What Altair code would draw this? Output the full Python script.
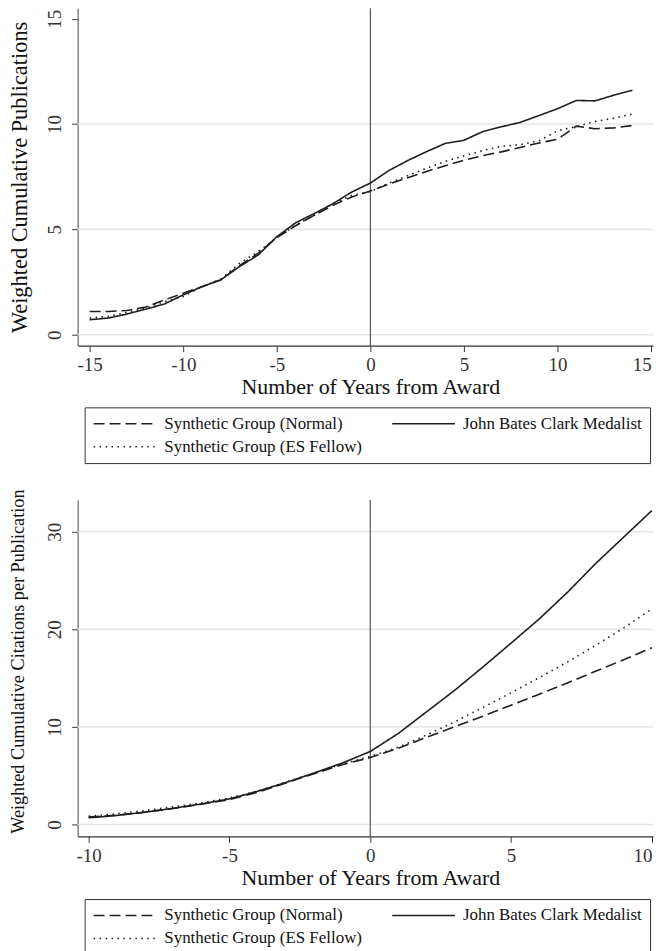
import altair as alt
import pandas as pd

# ---------------- data ----------------
# order in the legend (column-major): Normal, ES Fellow | Clark
series_names = ["Synthetic Group (Normal)", "Synthetic Group (ES Fellow)", "John Bates Clark Medalist"]

years_pub = list(range(-15, 15))
pub_normal = [1.10, 1.10, 1.15, 1.31, 1.65, 1.97, 2.28, 2.60, 3.28, 3.86, 4.61, 5.17, 5.67, 6.14, 6.54,
              6.82, 7.15, 7.45, 7.75, 8.02, 8.28, 8.50, 8.68, 8.89, 9.10, 9.28, 9.90, 9.78, 9.82, 9.93]
pub_es = [0.79, 0.87, 1.06, 1.26, 1.57, 1.81, 2.28, 2.63, 3.39, 3.94, 4.61, 5.20, 5.67, 6.22, 6.61,
          6.80, 7.20, 7.55, 7.90, 8.23, 8.49, 8.74, 8.94, 9.02, 9.20, 9.68, 9.88, 10.12, 10.28, 10.47]
pub_clark = [0.71, 0.79, 0.98, 1.21, 1.46, 1.89, 2.28, 2.60, 3.23, 3.78, 4.65, 5.31, 5.75, 6.22, 6.77,
             7.20, 7.80, 8.27, 8.69, 9.08, 9.23, 9.64, 9.87, 10.08, 10.40, 10.73, 11.12, 11.10, 11.37, 11.60]

years_cit = list(range(-10, 11))
cit_normal = [0.75, 0.95, 1.26, 1.63, 2.07, 2.55, 3.30, 4.25, 5.20, 6.12, 6.86,
              7.82, 8.94, 10.02, 11.10, 12.23, 13.35, 14.51, 15.70, 16.89, 18.11]
cit_es = [0.85, 1.09, 1.43, 1.80, 2.21, 2.72, 3.43, 4.32, 5.27, 6.19, 6.97,
          7.92, 9.17, 10.53, 11.99, 13.49, 15.05, 16.65, 18.35, 20.15, 22.09]
cit_clark = [0.68, 0.92, 1.26, 1.66, 2.10, 2.62, 3.40, 4.30, 5.27, 6.29, 7.48,
             9.34, 11.55, 13.76, 16.14, 18.59, 21.07, 23.79, 26.74, 29.46, 32.18]

pub_ticks_x = [-15, -10, -5, 0, 5, 10, 15]
pub_ticks_y = [0, 5, 10, 15]
pub_grid_y = [0, 5, 10]
cit_ticks_x = [-10, -5, 0, 5, 10]
cit_ticks_y = [0, 10, 20, 30]
cit_grid_y = [0, 10, 20, 30]
award_year = [0]

x_title = "Number of Years from Award"
pub_title = "Weighted Cumulative Publications"
cit_title = "Weighted Cumulative Citations per Publication"

# ---------------- styles ----------------
FONT = "Liberation Serif"
INK = "#1e1e1e"
dash_scale = alt.Scale(domain=series_names, range=[[11, 5], [1.5, 4.5], [1, 0]])
HYPHEN = "replace(datum.label, '\u2212', '-')"
LEFT = 69  # room left of each plot for the y labels and title


def long_table(years, normal, es, clark):
    rows = []
    for name, vals in zip(series_names, [normal, es, clark]):
        for yr, v in zip(years, vals):
            rows.append({"year": yr, "value": v, "group": name})
    return pd.DataFrame(rows)


def panel(df, xdom, ydom, xticks, yticks, grid, ytitle, ytitle_size, ytitle_y, w, h):
    xscale = alt.Scale(domain=xdom, nice=False, zero=False)
    yscale = alt.Scale(domain=ydom, nice=False, zero=False)
    xenc = alt.X(
        "year:Q",
        scale=xscale,
        axis=alt.Axis(values=xticks, title=x_title, grid=False, format="d", labelExpr=HYPHEN,
                      labelFont=FONT, labelFontSize=19, labelColor="#333",
                      labelFlush=5, labelFlushOffset=0,
                      tickSize=6, tickColor="#333", tickWidth=1,
                      domainColor="#333", domainWidth=1.2, labelPadding=4,
                      titleFont=FONT, titleFontSize=22, titleFontWeight="normal",
                      titleColor="#111", titlePadding=2, titleX=294, titleAlign="center"),
    )
    yenc = alt.Y(
        "value:Q",
        scale=yscale,
        axis=alt.Axis(values=yticks, title=ytitle, grid=False, format="d", labelExpr=HYPHEN,
                      labelFont=FONT, labelFontSize=19, labelColor="#333",
                      labelAngle=270, labelAlign="center", labelBaseline="bottom",
                      tickSize=6, tickColor="#333", tickWidth=1,
                      domainColor="#666", domainWidth=1.2, labelPadding=7,
                      titleFont=FONT, titleFontSize=ytitle_size, titleFontWeight="normal",
                      titleColor="#111", titleAngle=270, titleAlign="center",
                      titleBaseline="bottom", titleX=ytitle_size - LEFT, titleY=ytitle_y),
    )
    grid_layer = alt.Chart(pd.DataFrame({"value": grid})).mark_rule(
        color="#e6e6e6", strokeWidth=1.6
    ).encode(y=alt.Y("value:Q", scale=yscale))
    vline = alt.Chart(pd.DataFrame({"year": award_year})).mark_rule(
        color="#555", strokeWidth=1.2
    ).encode(x=alt.X("year:Q", scale=xscale))
    lines = alt.Chart(df).mark_line(color=INK, strokeWidth=1.6).encode(
        x=xenc,
        y=yenc,
        strokeDash=alt.StrokeDash(
            "group:N", scale=dash_scale,
            legend=alt.Legend(title=None, orient="none", legendX=7, legendY=401,
                              columns=2, symbolType="stroke", symbolSize=3969,
                              symbolStrokeWidth=1.5, symbolStrokeColor=INK,
                              labelFont=FONT, labelFontSize=17, labelColor="#111",
                              labelOffset=7, columnPadding=29, rowPadding=5,
                              padding=8, strokeColor="#333", clipHeight=17,
                              labelLimit=400, symbolOffset=0),
        ),
        detail="group:N",
    )
    return alt.layer(grid_layer, vline, lines).properties(width=w, height=h)


top = panel(long_table(years_pub, pub_normal, pub_es, pub_clark),
            [-15.64, 15.1], [-0.52, 15.5], pub_ticks_x, pub_ticks_y, pub_grid_y,
            pub_title, 22.5, 169.5, 578, 339)
bottom = panel(long_table(years_cit, cit_normal, cit_es, cit_clark),
               [-10.39, 10.04], [-1.22, 33.27], cit_ticks_x, cit_ticks_y, cit_grid_y,
               cit_title, 18.3, 162, 578, 338)

chart = alt.concat(top, bottom, columns=1, spacing=25, align="none").resolve_legend(
    strokeDash="independent"
).resolve_scale(x="independent", y="independent", strokeDash="independent").configure_view(
    stroke=None
).properties(padding={"left": 0, "top": -3, "right": -1, "bottom": 0}, background="white")

chart.save("out.html", embed_options={"renderer": "svg", "actions": False})
